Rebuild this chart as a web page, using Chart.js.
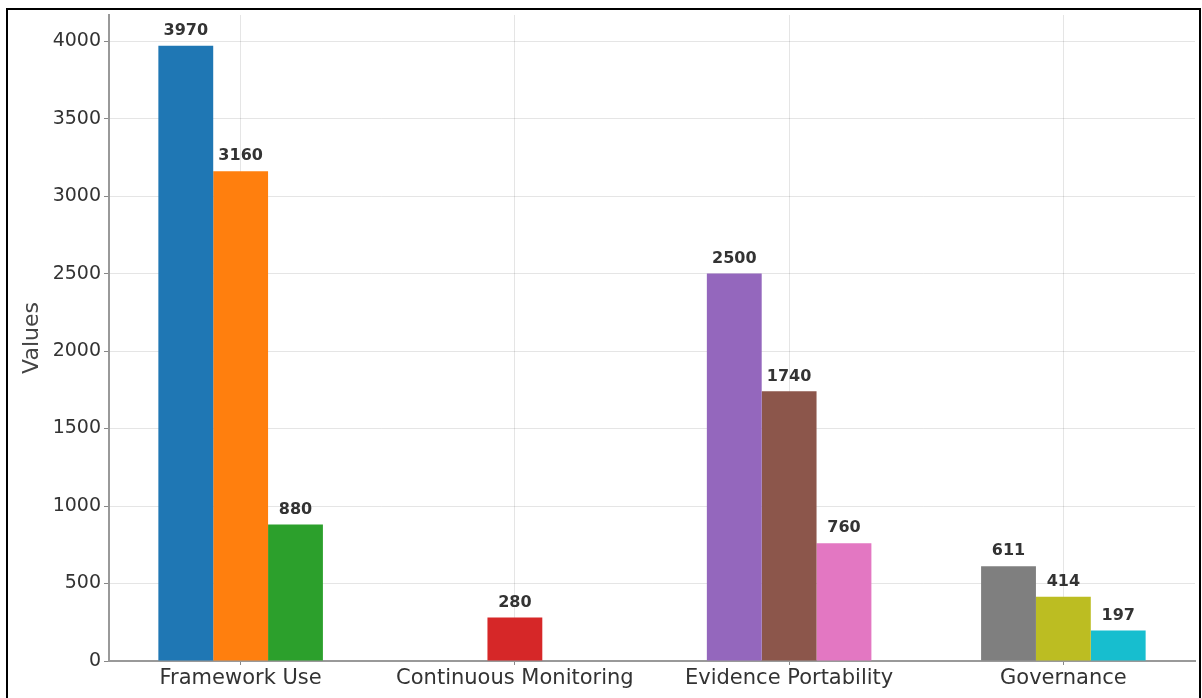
<!DOCTYPE html>
<html>
<head>
<meta charset="utf-8">
<script src="https://cdn.jsdelivr.net/npm/chart.js@4.4.1/dist/chart.umd.min.js"></script>
<style>
  html, body { margin: 0; padding: 0; background: #fff; overflow: hidden; }
  #wrap { position: relative; width: 1202px; height: 698px; overflow: hidden; }
  #chart { display: block; }
</style>
</head>
<body>
<div id="wrap">
  <canvas id="chart" width="1202" height="698"></canvas>
</div>
<script>
// categories and values (three bar slots per category: left, middle, right)
const categories = ["Framework Use", "Continuous Monitoring", "Evidence Portability", "Governance"];
const leftValues = [3970, null, 2500, 611];
const midValues = [3160, 280, 1740, 414];
const rightValues = [880, null, 760, 197];
const leftColors = ["#1f77b4", "#d62728", "#9467bd", "#7f7f7f"];
const midColors = ["#ff7f0e", "#d62728", "#8c564b", "#bcbd22"];
const rightColors = ["#2ca02c", "#d62728", "#e377c2", "#17becf"];
const yTicks = [0, 500, 1000, 1500, 2000, 2500, 3000, 3500, 4000];

const toPoints = (vals) => vals.map((v, i) => ({ x: i, y: v }));

const makeSet = (vals, colors) => ({
  data: toPoints(vals),
  backgroundColor: colors,
  borderWidth: 0,
  categoryPercentage: 0.6,
  barPercentage: 1.0,
});

// value labels above bars + the black frame round the picture
const valueLabels = {
  id: "valueLabels",
  afterDatasetsDraw(chart) {
    const { ctx } = chart;
    ctx.save();
    ctx.font = "bold 16px 'DejaVu Sans'";
    ctx.fillStyle = "#333";
    ctx.textAlign = "center";
    ctx.textBaseline = "bottom";
    chart.data.datasets.forEach((ds, di) => {
      const meta = chart.getDatasetMeta(di);
      meta.data.forEach((bar, i) => {
        const v = ds.data[i].y;
        if (v === null) return;
        ctx.fillText(String(v), bar.x, bar.y - 7);
      });
    });
    ctx.restore();
  },
  afterDraw(chart) {
    const { ctx } = chart;
    ctx.save();
    ctx.strokeStyle = "#000";
    ctx.lineWidth = 2;
    ctx.beginPath();
    ctx.moveTo(7, 700);
    ctx.lineTo(7, 9);
    ctx.lineTo(1200, 9);
    ctx.lineTo(1200, 700);
    ctx.stroke();
    ctx.restore();
  },
};

const ctx = document.getElementById("chart").getContext("2d");

new Chart(ctx, {
  type: "bar",
  data: {
    datasets: [
      makeSet(leftValues, leftColors),
      makeSet(midValues, midColors),
      makeSet(rightValues, rightColors),
    ],
  },
  options: {
    responsive: false,
    animation: false,
    layout: { padding: { left: 0, right: 7, top: 15, bottom: 0 } },
    plugins: {
      legend: { display: false },
      tooltip: { enabled: false },
    },
    scales: {
      x: {
        type: "linear",
        min: -0.48,
        max: 3.48,
        offset: false,
        afterBuildTicks: (scale) => {
          scale.ticks = categories.map((c, i) => ({ value: i }));
        },
        afterFit: (scale) => {
          scale.height = 37;
        },
        ticks: {
          callback: (v) => categories[v],
          font: { family: "DejaVu Sans", size: 21 },
          color: "#333",
          padding: 1,
          maxRotation: 0,
          autoSkip: false,
        },
        grid: { offset: false, color: "rgba(0,0,0,0.1)", lineWidth: 1, tickColor: "#888", tickLength: 4 },
        border: { color: "#999", width: 2 },
      },
      y: {
        min: 0,
        max: 4168.5,
        afterBuildTicks: (scale) => {
          scale.ticks = yTicks.map((v) => ({ value: v }));
        },
        afterFit: (scale) => {
          scale.width = 109;
        },
        ticks: {
          callback: (v) => String(v),
          font: { family: "DejaVu Sans", size: 19 },
          color: "#333",
          padding: 3,
        },
        title: {
          display: true,
          text: "Values",
          font: { family: "DejaVu Sans", size: 22 },
          color: "#444",
          padding: { top: 19, bottom: 0 },
        },
        grid: { color: "rgba(0,0,0,0.1)", lineWidth: 1, tickColor: "#888", tickLength: 5 },
        border: { color: "#999", width: 2 },
      },
    },
  },
  plugins: [valueLabels],
});
</script>
</body>
</html>
